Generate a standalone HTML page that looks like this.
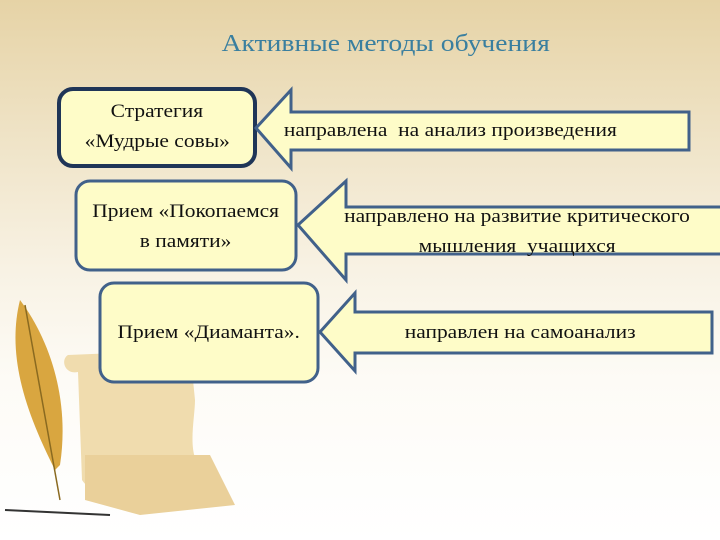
<!DOCTYPE html>
<html><head><meta charset="utf-8"><style>
body{margin:0}
#s{position:relative;width:720px;height:540px;overflow:hidden;background:linear-gradient(to bottom,#e6d3a6 0%,#efe3c6 25%,#f8f2e4 50%,#fdfbf6 70%,#fff 100%);font-family:"Liberation Serif",serif}
.t{position:absolute;color:#111;font-size:19px;text-align:center;line-height:30px}
.t span{display:inline-block;transform:scaleX(1.13)}
</style></head><body><div id="s">
<div style="position:absolute;left:0;top:31px;width:772px;text-align:center;font-size:24px;color:#3a7f9f"><span style="display:inline-block;transform:scaleX(1.15)">Активные методы обучения</span></div>
<svg width="720" height="540" style="position:absolute;left:0;top:0">
<g>
<path d="M68 355 C60 360 65 375 78 372 L82 480 C95 500 140 510 200 505 L205 470 C185 460 195 420 195 400 L190 350 Z" fill="#f0dcae"/>
<path d="M85 455 L210 455 L235 505 L140 515 L85 500 Z" fill="#ead09a"/>
<path d="M20 300 C5 360 30 420 55 470 L60 465 C70 400 50 340 20 300Z" fill="#d9a640"/>
<line x1="25" y1="305" x2="60" y2="500" stroke="#8a6a20" stroke-width="1.5"/>
<path d="M5 510 L110 515" stroke="#333" stroke-width="2"/>
</g>
<g fill="#fefcc8" stroke="#41618a" stroke-width="3">
<rect x="59" y="89" width="196" height="77" rx="14" stroke="#1f3557" stroke-width="4"/>
<polygon points="256,128 291,90 291,112 689,112 689,150 291,150 291,168"/>
<rect x="76" y="181" width="220" height="89" rx="14"/>
<polygon points="298,225 346,181 346,207 722,207 722,254 346,254 346,280"/>
<rect x="100" y="283" width="218" height="99" rx="14"/>
<polygon points="320,332 355,293 355,312 712,312 712,353 355,353 355,371"/>
</g>
</svg>
<div class="t" style="left:59px;top:97px;width:196px"><span>Стратегия</span><br><span>«Мудрые совы»</span></div>
<div class="t" style="left:270px;top:116px;width:360px"><span>направлена&nbsp; на анализ произведения</span></div>
<div class="t" style="left:76px;top:197px;width:220px"><span>Прием «Покопаемся</span><br><span>в памяти»</span></div>
<div class="t" style="left:322px;top:202px;width:390px"><span>направлено на развитие критического</span><br><span>мышления&nbsp; учащихся</span></div>
<div class="t" style="left:100px;top:318px;width:218px"><span>Прием «Диаманта».</span></div>
<div class="t" style="left:335px;top:318px;width:370px"><span>направлен на самоанализ</span></div>
</div></body></html>
